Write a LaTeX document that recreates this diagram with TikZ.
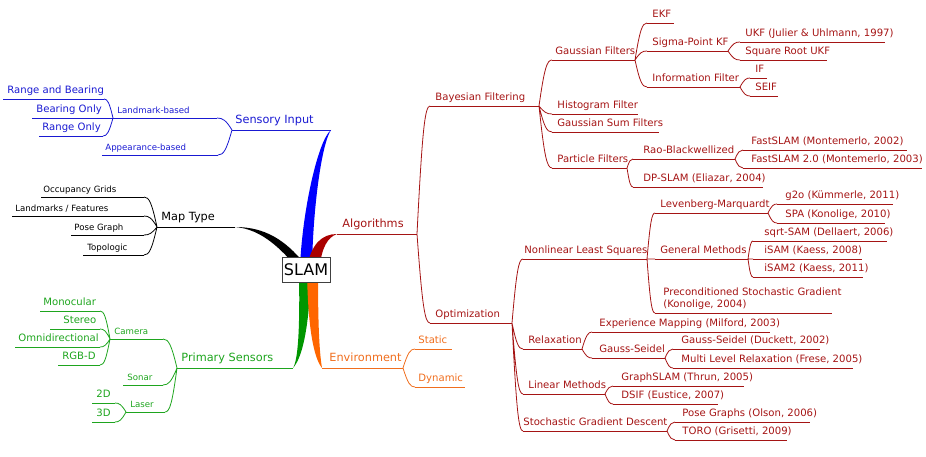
\documentclass[tikz,border=0pt]{standalone}
\usepackage{fontspec}
\setmainfont{DejaVu Sans}
\usetikzlibrary{calc}
\definecolor{mblue}{RGB}{25,25,210}
\definecolor{mbluef}{RGB}{0,0,255}
\definecolor{mred}{RGB}{165,20,20}
\definecolor{mredf}{RGB}{170,0,0}
\definecolor{mgreen}{RGB}{30,165,30}
\definecolor{mgreenf}{RGB}{0,150,0}
\definecolor{morange}{RGB}{240,110,30}
\definecolor{morangef}{RGB}{255,102,0}
\tikzset{
  cb/.style={color=mblue}, ck/.style={color=black}, cr/.style={color=mred},
  cg/.style={color=mgreen}, co/.style={color=morange},
  lg/.style={font=\fontsize{11.3}{13}\selectfont, yshift=6.5pt},
  md/.style={font=\fontsize{10.1}{12}\selectfont, yshift=5.5pt},
  sm/.style={font=\fontsize{8.6}{10}\selectfont, yshift=4.5pt},
  br/.style={to path={let \p1=(\tikztostart), \p2=(\tikztotarget) in
    .. controls ({\x1+0.4*(\x2-\x1)},{\y1+0.8*(\y2-\y1)}) and ({\x1+0.6*(\x2-\x1)},\y2) .. (\tikztotarget)}},
  rootbox/.style={draw=black!75, fill=white, line width=0.8pt, font=\fontsize{16}{18}\selectfont,
    minimum width=48pt, minimum height=25pt, inner sep=1pt},
}
% name, colour, size, x1, x2, y, text x, text
\newcommand\mmn[8]{%
  \coordinate (#1-l) at (#4,#6);
  \coordinate (#1-r) at (#5,#6);
  \draw[#2] (#1-l) -- (#1-r);
  \node[#2,#3,anchor=base west,inner sep=0pt] (#1) at (#7,#6) {#8};
}
\begin{document}
\begin{tikzpicture}[x=1pt,y=-1pt,line width=0.8pt]
\useasboundingbox (0,0) rectangle (926,457);

% ---------- blue: Sensory Input
\mmn{si}{cb}{lg}{232}{331}{130}{235}{Sensory Input}
\mmn{lmb}{cb}{sm}{113}{217}{118}{117}{Landmark-based}
\mmn{app}{cb}{sm}{102}{218}{155}{105}{Appearance-based}
\mmn{rab}{cb}{md}{3}{104}{99}{7}{Range and Bearing}
\mmn{bo}{cb}{md}{32}{113}{118}{36}{Bearing Only}
\mmn{ro}{cb}{md}{39}{103}{136}{42}{Range Only}
\draw[cb] (si-l) to[br] (lmb-r) (si-l) to[br] (app-r)
          (lmb-l) to[br] (rab-r) (lmb-l) -- (bo-r) (lmb-l) to[br] (ro-r);

% ---------- black: Map Type
\mmn{mt}{ck}{lg}{157}{235}{227}{161}{Map Type}
\mmn{og}{ck}{sm}{41}{144}{197}{43}{Occupancy Grids}
\mmn{lf}{ck}{sm}{12}{144}{216}{15}{Landmarks / Features}
\mmn{pg}{ck}{sm}{71}{144}{235}{74}{Pose Graph}
\mmn{tp}{ck}{sm}{83}{144}{255}{87}{Topologic}
\draw[ck] (mt-l) to[br] (og-r) (mt-l) to[br] (lf-r) (mt-l) to[br] (pg-r) (mt-l) to[br] (tp-r);

% ---------- green: Primary Sensors
\mmn{ps}{cg}{lg}{177}{293}{368}{181}{Primary Sensors}
\mmn{cam}{cg}{sm}{110}{163}{339}{114}{Camera}
\mmn{son}{cg}{sm}{123}{163}{385}{127}{Sonar}
\mmn{las}{cg}{sm}{126}{165}{412}{130}{Laser}
\mmn{mono}{cg}{md}{40}{100}{311}{43}{Monocular}
\mmn{ster}{cg}{md}{50}{100}{329}{63}{Stereo}
\mmn{omni}{cg}{md}{15}{100}{347}{18}{Omnidirectional}
\mmn{rgbd}{cg}{md}{58}{100}{365}{62}{RGB-D}
\mmn{dtwo}{cg}{md}{92}{115}{403}{96}{2D}
\mmn{dthree}{cg}{md}{92}{115}{422}{96}{3D}
\draw[cg] (ps-l) to[br] (cam-r) (ps-l) to[br] (son-r) (ps-l) to[br] (las-r)
          (cam-l) to[br] (mono-r) (cam-l) to[br] (ster-r) (cam-l) to[br] (omni-r) (cam-l) to[br] (rgbd-r)
          (las-l) to[br] (dtwo-r) (las-l) to[br] (dthree-r);

% ---------- orange: Environment
\mmn{env}{co}{lg}{322}{403}{368}{329}{Environment}
\mmn{stat}{co}{md}{415}{452}{349}{418}{Static}
\mmn{dyn}{co}{md}{415}{465}{387}{418}{Dynamic}
\draw[co] (env-r) to[br] (stat-l) (env-r) to[br] (dyn-l);

% ---------- red: Algorithms
\mmn{alg}{cr}{lg}{337}{417}{234}{342}{Algorithms}
\mmn{bf}{cr}{md}{430}{539}{106}{435}{Bayesian Filtering}
\mmn{opt}{cr}{md}{430}{512}{323}{435}{Optimization}
\mmn{gf}{cr}{md}{552}{635}{60}{555}{Gaussian Filters}
\mmn{hf}{cr}{md}{552}{638}{114}{557}{Histogram Filter}
\mmn{gsf}{cr}{md}{552}{659}{132}{557}{Gaussian Sum Filters}
\mmn{pf}{cr}{md}{552}{627}{168}{557}{Particle Filters}
\mmn{ekf}{cr}{md}{647}{674}{23}{652}{EKF}
\mmn{spkf}{cr}{md}{647}{728}{51}{652}{Sigma-Point KF}
\mmn{inf}{cr}{md}{647}{740}{87}{652}{Information Filter}
\mmn{ukf}{cr}{md}{740}{885}{42}{745}{UKF (Julier \& Uhlmann, 1997)}
\mmn{sqr}{cr}{md}{740}{827}{60}{745}{Square Root UKF}
\mmn{ifl}{cr}{md}{750}{767}{78}{755}{IF}
\mmn{seif}{cr}{md}{750}{778}{96}{755}{SEIF}
\mmn{rb}{cr}{md}{633}{735}{159}{643}{Rao-Blackwellized}
\mmn{dps}{cr}{md}{633}{763}{187}{643}{DP-SLAM (Eliazar, 2004)}
\mmn{fsa}{cr}{md}{743}{907}{150}{751}{FastSLAM (Montemerlo, 2002)}
\mmn{fsb}{cr}{md}{743}{922}{168}{751}{FastSLAM 2.0 (Montemerlo, 2003)}
\mmn{nls}{cr}{md}{523}{647}{259}{524}{Nonlinear Least Squares}
\mmn{lm}{cr}{md}{655}{768}{213}{660}{Levenberg-Marquardt}
\mmn{gm}{cr}{md}{655}{748}{259}{660}{General Methods}
\coordinate (psg-l) at (655,313);
\coordinate (psg-r) at (832,313);
\draw[cr] (psg-l) -- (psg-r);
\node[cr,font=\fontsize{10.1}{12}\selectfont,anchor=south west,inner sep=0pt,align=left,yshift=3.5pt]
  (psg) at (663,313) {Preconditioned Stochastic Gradient\\(Konolige, 2004)};
\mmn{gto}{cr}{md}{777}{893}{204}{785}{g2o (Kümmerle, 2011)}
\mmn{spa}{cr}{md}{777}{885}{223}{785}{SPA (Konolige, 2010)}
\mmn{sqs}{cr}{md}{753}{887}{241}{764}{sqrt-SAM (Dellaert, 2006)}
\mmn{isa}{cr}{md}{753}{862}{259}{764}{iSAM (Kaess, 2008)}
\mmn{isb}{cr}{md}{753}{863}{277}{764}{iSAM2 (Kaess, 2011)}
\mmn{rel}{cr}{md}{523}{582}{349}{528}{Relaxation}
\mmn{exm}{cr}{md}{592}{770}{332}{599}{Experience Mapping (Milford, 2003)}
\mmn{gs}{cr}{md}{592}{665}{358}{599}{Gauss-Seidel}
\mmn{gsd}{cr}{md}{673}{820}{349}{681}{Gauss-Seidel (Duckett, 2002)}
\mmn{mlr}{cr}{md}{673}{853}{368}{681}{Multi Level Relaxation (Frese, 2005)}
\mmn{lin}{cr}{md}{523}{605}{394}{528}{Linear Methods}
\mmn{gsl}{cr}{md}{613}{744}{386}{621}{GraphSLAM (Thrun, 2005)}
\mmn{dsif}{cr}{md}{613}{718}{404}{621}{DSIF (Eustice, 2007)}
\mmn{sgd}{cr}{md}{523}{667}{431}{523}{Stochastic Gradient Descent}
\mmn{pgo}{cr}{md}{675}{810}{422}{682}{Pose Graphs (Olson, 2006)}
\mmn{toro}{cr}{md}{675}{787}{440}{682}{TORO (Grisetti, 2009)}
\draw[cr] (alg-r) to[br] (bf-l) (alg-r) to[br] (opt-l)
  (bf-r) to[br] (gf-l) (bf-r) to[br] (hf-l) (bf-r) to[br] (gsf-l) (bf-r) to[br] (pf-l)
  (gf-r) to[br] (ekf-l) (gf-r) to[br] (spkf-l) (gf-r) to[br] (inf-l)
  (spkf-r) to[br] (ukf-l) (spkf-r) to[br] (sqr-l)
  (inf-r) to[br] (ifl-l) (inf-r) to[br] (seif-l)
  (pf-r) to[br] (rb-l) (pf-r) to[br] (dps-l)
  (rb-r) to[br] (fsa-l) (rb-r) to[br] (fsb-l)
  (opt-r) to[br] (nls-l) (opt-r) to[br] (rel-l) (opt-r) to[br] (lin-l) (opt-r) to[br] (sgd-l)
  (nls-r) to[br] (lm-l) (nls-r) -- (gm-l) (nls-r) to[br] (psg-l)
  (lm-r) to[br] (gto-l) (lm-r) to[br] (spa-l)
  (gm-r) to[br] (sqs-l) (gm-r) -- (isa-l) (gm-r) to[br] (isb-l)
  (rel-r) to[br] (exm-l) (rel-r) to[br] (gs-l)
  (gs-r) to[br] (gsd-l) (gs-r) to[br] (mlr-l)
  (lin-r) to[br] (gsl-l) (lin-r) to[br] (dsif-l)
  (sgd-r) to[br] (pgo-l) (sgd-r) to[br] (toro-l);

% ---------- thick main branches
\fill[black] (mt-r) .. controls (265,227) and (285,240) .. (304,263) -- (298,269)
   .. controls (282,250) and (262,229) .. (mt-r) -- cycle;
\fill[mbluef] (300,268) .. controls (302,212) and (318,140) .. (si-r)
   .. controls (322,143) and (313,205) .. (312,268) -- cycle;
\fill[mredf] (307,268) .. controls (311,244) and (322,234) .. (alg-l)
   .. controls (328,237) and (321,248) .. (320,268) -- cycle;
\fill[mgreenf] (299,272) .. controls (300,330) and (298,360) .. (ps-r)
   .. controls (302,358) and (309,330) .. (311,272) -- cycle;
\fill[morangef] (307,272) .. controls (308,330) and (314,358) .. (env-l)
   .. controls (319,350) and (318,320) .. (318,272) -- cycle;

% ---------- root
\node[rootbox] (root) at (306,269.5) {SLAM};
\end{tikzpicture}
\end{document}
